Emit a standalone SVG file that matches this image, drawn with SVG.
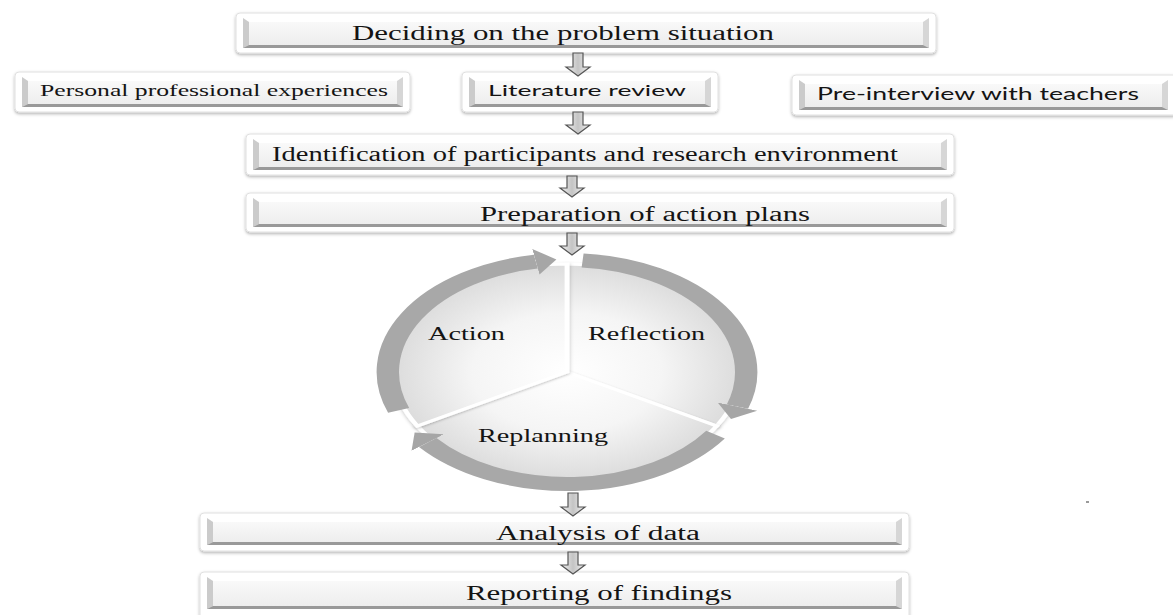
<svg xmlns="http://www.w3.org/2000/svg" width="1173" height="615" viewBox="0 0 1173 615">
<defs>
  <filter id="sh" x="-5%" y="-30%" width="110%" height="170%">
    <feDropShadow dx="0" dy="1.5" stdDeviation="1.6" flood-color="#000" flood-opacity="0.3"/>
  </filter>
  <filter id="wsh" x="-10%" y="-10%" width="120%" height="120%">
    <feDropShadow dx="0" dy="1" stdDeviation="1.2" flood-color="#000" flood-opacity="0.25"/>
  </filter>
  <linearGradient id="gIn" x1="0" y1="0" x2="0" y2="1">
    <stop offset="0" stop-color="#fbfbfb"/><stop offset="1" stop-color="#ececec"/>
  </linearGradient>
  <linearGradient id="gArr" x1="0" y1="0" x2="1" y2="0">
    <stop offset="0" stop-color="#f2f2f2"/><stop offset="0.5" stop-color="#c4c4c4"/><stop offset="1" stop-color="#f2f2f2"/>
  </linearGradient>
  <radialGradient id="gW" cx="0" cy="0" r="108" gradientUnits="userSpaceOnUse">
    <stop offset="0" stop-color="#ffffff"/><stop offset="0.55" stop-color="#f5f5f5"/><stop offset="1" stop-color="#dcdcdc"/>
  </radialGradient>
  <marker id="head" markerUnits="userSpaceOnUse" viewBox="0 -14 14 28" refX="0" refY="0" markerWidth="14" markerHeight="28" orient="auto">
    <path d="M0,-13 L13,0 L0,13 Z" fill="#a6a6a6"/>
  </marker>
  <style>
    .outer{fill:#fff;stroke:#e0e0e0;stroke-width:1;filter:url(#sh)}
    .inner{fill:url(#gIn)}
    .bt{fill:#ffffff}
    .bl{fill:#cbcbcb}
    .br{fill:#d6d6d6}
    .bb{fill:#999999}
    .t{font-family:"Liberation Serif","Times New Roman",serif;font-size:20px;fill:#141414}
    .s{font-family:Lato,"Liberation Sans",sans-serif;font-size:16px;fill:#141414}
    .arr{fill:url(#gArr);stroke:#555;stroke-width:1.2}
    .ring{fill:none;stroke:#a8a8a8;stroke-width:14;marker-end:url(#head)}
    .wedge{fill:url(#gW);stroke:#fff;stroke-width:3;filter:url(#wsh)}
  </style>
</defs>
<rect width="1173" height="615" fill="#fff"/>

<g id="n-deciding">
  <rect class="outer" x="236" y="13" width="700" height="40" rx="4"/>
  <rect class="inner" x="243" y="18" width="686" height="30"/>
  <polygon class="bt" points="243,18 929,18 923,22 249,22"/>
  <polygon class="bl" points="243,18 249,22 249,45 243,48"/>
  <polygon class="br" points="929,18 929,48 923,45 923,22"/>
  <polygon class="bb" points="243,48 249,45 923,45 929,48"/>
  <text class="t" x="352" y="40" textLength="422" lengthAdjust="spacingAndGlyphs">Deciding on the problem situation</text>
</g>

<g id="n-personal">
  <rect class="outer" x="15" y="72" width="395" height="40" rx="4"/>
  <rect class="inner" x="22" y="77" width="381" height="30"/>
  <polygon class="bt" points="22,77 403,77 397,81 28,81"/>
  <polygon class="bl" points="22,77 28,81 28,104 22,107"/>
  <polygon class="br" points="403,77 403,107 397,104 397,81"/>
  <polygon class="bb" points="22,107 28,104 397,104 403,107"/>
  <text class="t" x="40" y="96" style="font-size:17px" textLength="348" lengthAdjust="spacingAndGlyphs">Personal professional experiences</text>
</g>

<g id="n-literature">
  <rect class="outer" x="462" y="72" width="256" height="40" rx="4"/>
  <rect class="inner" x="469" y="77" width="242" height="30"/>
  <polygon class="bt" points="469,77 711,77 705,81 475,81"/>
  <polygon class="bl" points="469,77 475,81 475,104 469,107"/>
  <polygon class="br" points="711,77 711,107 705,104 705,81"/>
  <polygon class="bb" points="469,107 475,104 705,104 711,107"/>
  <text class="s" x="488" y="96" textLength="198" lengthAdjust="spacingAndGlyphs">Literature review</text>
</g>

<g id="n-preinterview">
  <rect class="outer" x="792" y="75" width="385" height="40" rx="4"/>
  <rect class="inner" x="799" y="80" width="369" height="30"/>
  <polygon class="bt" points="799,80 1168,80 1162,84 805,84"/>
  <polygon class="bl" points="799,80 805,84 805,107 799,110"/>
  <polygon class="br" points="1168,80 1168,110 1162,107 1162,84"/>
  <polygon class="bb" points="799,110 805,107 1162,107 1168,110"/>
  <text class="s" x="817" y="100" style="font-size:17px" textLength="322" lengthAdjust="spacingAndGlyphs">Pre-interview with teachers</text>
</g>

<g id="n-identification">
  <rect class="outer" x="246" y="134" width="708" height="41" rx="4"/>
  <rect class="inner" x="253" y="139" width="694" height="31"/>
  <polygon class="bt" points="253,139 947,139 941,143 259,143"/>
  <polygon class="bl" points="253,139 259,143 259,167 253,170"/>
  <polygon class="br" points="947,139 947,170 941,167 941,143"/>
  <polygon class="bb" points="253,170 259,167 941,167 947,170"/>
  <text class="t" x="272" y="161" textLength="626" lengthAdjust="spacingAndGlyphs">Identification of participants and research environment</text>
</g>

<g id="n-preparation">
  <rect class="outer" x="246" y="193" width="708" height="39" rx="4"/>
  <rect class="inner" x="253" y="198" width="694" height="29"/>
  <polygon class="bt" points="253,198 947,198 941,202 259,202"/>
  <polygon class="bl" points="253,198 259,202 259,224 253,227"/>
  <polygon class="br" points="947,198 947,227 941,224 941,202"/>
  <polygon class="bb" points="253,227 259,224 941,224 947,227"/>
  <text class="t" x="480" y="221" textLength="330" lengthAdjust="spacingAndGlyphs">Preparation of action plans</text>
</g>

<g id="n-cycle">
  <g transform="translate(567,372) scale(1.6,1)">
    <path class="wedge" d="M0,0 L0,-108 A108,108 0 0 1 93.53,54 Z"/>
    <path class="wedge" d="M0,0 L93.53,54 A108,108 0 0 1 -93.53,54 Z"/>
    <path class="wedge" d="M0,0 L-93.53,54 A108,108 0 0 1 0,-108 Z"/>
    <path class="ring" d="M-105.24,38.31 A112,112 0 0 1 -19.45,-110.30"/>
    <path class="ring" d="M9.76,-111.57 A112,112 0 0 1 106.52,34.61"/>
    <path class="ring" d="M92.85,62.63 A112,112 0 0 1 -87.04,70.48"/>
  </g>
  <text class="t" x="428" y="340" style="font-size:19px" textLength="77" lengthAdjust="spacingAndGlyphs">Action</text>
  <text class="t" x="588" y="340" style="font-size:19px" textLength="117" lengthAdjust="spacingAndGlyphs">Reflection</text>
  <text class="t" x="478" y="442" style="font-size:19px" textLength="130" lengthAdjust="spacingAndGlyphs">Replanning</text>
</g>

<g id="n-analysis">
  <rect class="outer" x="200" y="513" width="709" height="38" rx="4"/>
  <rect class="inner" x="207" y="518" width="695" height="27"/>
  <polygon class="bt" points="207,518 902,518 896,522 213,522"/>
  <polygon class="bl" points="207,518 213,522 213,542 207,545"/>
  <polygon class="br" points="902,518 902,545 896,542 896,522"/>
  <polygon class="bb" points="207,545 213,542 896,542 902,545"/>
  <text class="t" x="496" y="540" textLength="204" lengthAdjust="spacingAndGlyphs">Analysis of data</text>
</g>

<g id="n-reporting">
  <rect class="outer" x="200" y="572" width="709" height="50" rx="4"/>
  <rect class="inner" x="207" y="577" width="695" height="32"/>
  <polygon class="bt" points="207,577 902,577 896,581 213,581"/>
  <polygon class="bl" points="207,577 213,581 213,606 207,609"/>
  <polygon class="br" points="902,577 902,609 896,606 896,581"/>
  <polygon class="bb" points="207,609 213,606 896,606 902,609"/>
  <text class="t" x="466" y="600" textLength="266" lengthAdjust="spacingAndGlyphs">Reporting of findings</text>
</g>

<g id="connectors">
  <path class="arr" d="M573,53 L583,53 L583,67 L590,67 L578,76 L566,67 L573,67 Z"/>
  <path class="arr" d="M573,112 L583,112 L583,125 L590,125 L578,134 L566,125 L573,125 Z"/>
  <path class="arr" d="M567,176 L577,176 L577,188 L584,188 L572,197 L560,188 L567,188 Z"/>
  <path class="arr" d="M567,233 L577,233 L577,246 L584,246 L572,255 L560,246 L567,246 Z"/>
  <path class="arr" d="M568,493 L578,493 L578,507 L585,507 L573,516 L561,507 L568,507 Z"/>
  <path class="arr" d="M568,552 L578,552 L578,565 L585,565 L573,574 L561,565 L568,565 Z"/>
</g>
<rect x="1086" y="501" width="3" height="2" fill="#9a9a9a"/>
</svg>
